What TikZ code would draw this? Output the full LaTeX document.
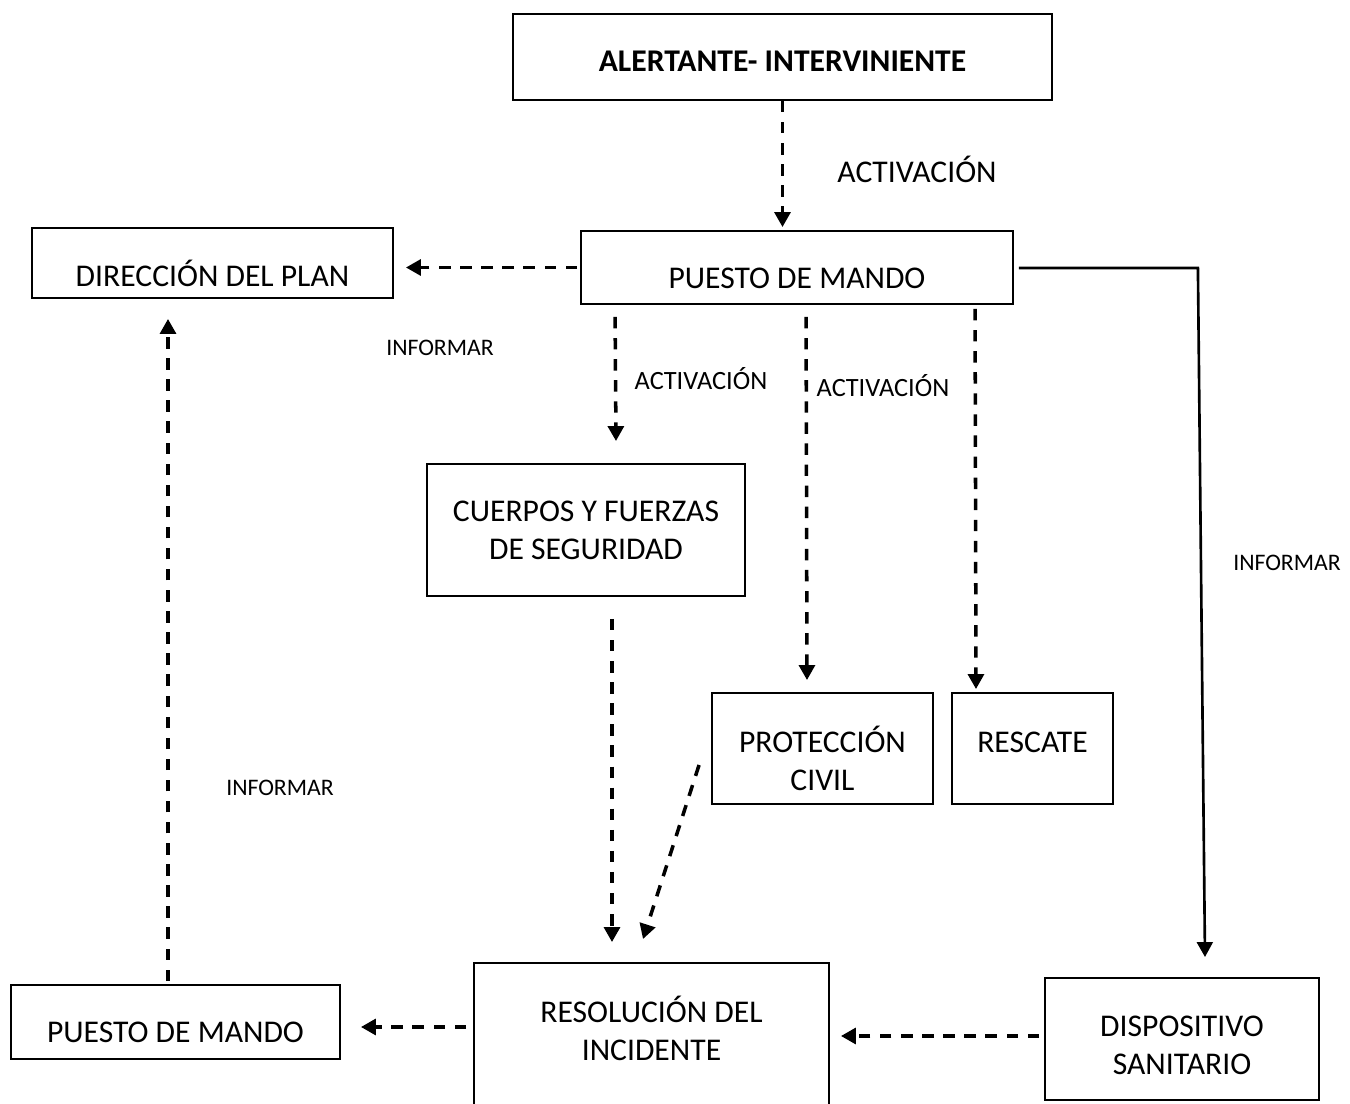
\documentclass[tikz,border=0pt]{standalone}
\usepackage{fontspec}
\setmainfont{Carlito}
\usepackage{tikz}
\usetikzlibrary{calc,arrows.meta}
\tikzset{
    caja/.style={draw, line width=1.1pt, inner sep=0pt},
    texto/.style={inner sep=0pt, align=center, font=\fontsize{18}{21.5}\selectfont},
    flujo/.style={line width=2pt, dash pattern=on 6.5pt off 5.5pt, -{Triangle[width=9pt, length=8.5pt]}},
    etiqueta/.style={inner sep=0pt, font=\fontsize{18}{21.5}\selectfont},
    etiquetachica/.style={inner sep=0pt, font=\fontsize{15}{17}\selectfont}
}

\begin{document}
\begin{tikzpicture}[x=0.02cm, y=-0.02cm]

    % Fix the page size
    \useasboundingbox (0, 0) rectangle (1350, 1104);

    % Draw boxes
    \node[caja, minimum width=10.78cm, minimum height=1.72cm,
        label={[texto, yshift=-0.08cm]center:\textbf{ALERTANTE- INTERVINIENTE}}] (alert) at (782.5, 57) {};
    \node[caja, minimum width=8.64cm, minimum height=1.46cm,
        label={[texto, yshift=-0.21cm]center:PUESTO DE MANDO}] (pm) at (797, 267.5) {};
    \node[caja, minimum width=7.22cm, minimum height=1.40cm,
        label={[texto, yshift=-0.2cm]center:DIRECCIÓN DEL PLAN}] (dir) at (212.5, 263) {};
    \node[caja, minimum width=6.36cm, minimum height=2.64cm,
        label={[texto]center:CUERPOS Y FUERZAS\\DE SEGURIDAD}] (cfs) at (586, 530) {};
    \node[caja, minimum width=4.42cm, minimum height=2.22cm,
        label={[texto, yshift=-0.2cm]center:PROTECCIÓN\\CIVIL}] (pc) at (822.5, 748.5) {};
    \node[caja, minimum width=3.22cm, minimum height=2.22cm,
        label={[texto, yshift=0.13cm]center:RESCATE}] (resc) at (1032.5, 748.5) {};
    \node[caja, minimum width=7.10cm, minimum height=2.94cm,
        label={[texto, yshift=0.16cm]center:RESOLUCIÓN DEL\\INCIDENTE}] (res) at (651.5, 1036.5) {};
    \node[caja, minimum width=6.58cm, minimum height=1.48cm,
        label={[texto, yshift=-0.2cm]center:PUESTO DE MANDO}] (pmb) at (175.5, 1022) {};
    \node[caja, minimum width=5.48cm, minimum height=2.44cm,
        label={[texto, yshift=-0.12cm]center:DISPOSITIVO\\SANITARIO}] (disp) at (1182, 1039) {};

    % Add labels
    \node[etiqueta] (act1) at (917, 169) {ACTIVACIÓN};
    \node[etiquetachica] (act2) at (701, 379) {ACTIVACIÓN};
    \node[etiquetachica] (act3) at (883, 386) {ACTIVACIÓN};
    \node[etiquetachica, font=\fontsize{13.5}{16}\selectfont] (inf1) at (440, 348) {INFORMAR};
    \node[etiquetachica, font=\fontsize{13.5}{16}\selectfont] (inf2) at (1287, 563) {INFORMAR};
    \node[etiquetachica, font=\fontsize{13.5}{16}\selectfont] (inf3) at (280, 788) {INFORMAR};

    % Draw activation arrows
    \draw[flujo] (alert.south) -- ($(pm.north -| alert.south)+(0,-3)$);
    \draw[flujo] ($(pm.west)+(-3,0)$) -- ($(dir.east |- pm.west)+(12,0)$);
    \draw[flujo] ($(pm.south west)+(35,12)$) -- ($(cfs.north)+(30,-22)$);
    \draw[flujo] ($(pm.south west)+(226,12)$) -- ($(pc.north)+(-15.5,-12)$);
    \draw[flujo] ($(pm.south west)+(395,4)$) -- ($(resc.north)+(-56.5,-3)$);

    % Draw solid connector to the medical unit
    \coordinate (esquina) at ($(pm.east)+(184,0.5)$);
    \draw[line width=1.5pt, -{Triangle[width=9pt, length=8.5pt]}]
        ($(pm.east)+(5,0.5)$) -- (esquina) -- ($(disp.north)+(23,-20)$);

    % Draw arrows towards the resolution
    \draw[flujo] ($(cfs.south)+(26,22)$) -- ($(res.north)+(-39.5,-20)$);
    \draw[flujo] ($(pc.west)+(-12,16.5)$) -- ($(res.north)+(-8.5,-23)$);
    \draw[flujo] ($(disp.west)+(-5,-3)$) -- ($(res.east)+(11,-0.5)$);
    \draw[flujo] ($(res.west)+(-7,-9.5)$) -- ($(pmb.east)+(20,5)$);

    % Report back to the plan direction
    \draw[flujo] ($(pmb.north)+(-7.5,-3)$) -- ($(dir.south)+(-44.5,20)$);
\end{tikzpicture}
\end{document}
